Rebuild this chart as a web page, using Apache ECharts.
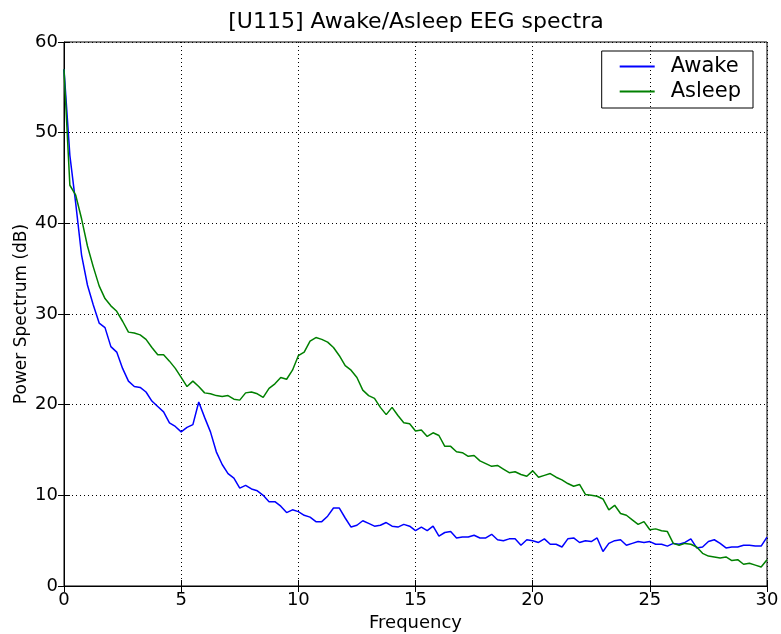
<!DOCTYPE html>
<html>
<head>
<meta charset="utf-8">
<script src="https://cdn.jsdelivr.net/npm/echarts@6/dist/echarts.min.js"></script>
<style>
  html, body { margin: 0; padding: 0; background: #fff; }
  #main { width: 781px; height: 634px; }
</style>
</head>
<body>
<div id="main"></div>
<script>
// sampled spectra, 0.25 Hz step from 0 to 30 Hz
var step = 0.25;
var awake = [
  57.0, 47.5, 42.2, 36.5, 33.2, 31.0, 29.0, 28.5, 26.4, 25.8,
  24.0, 22.6, 22.0, 21.9, 21.4, 20.4, 19.8, 19.2, 18.0, 17.6,
  17.0, 17.5, 17.8, 20.3, 18.6, 17.0, 14.8, 13.4, 12.4, 11.9,
  10.8, 11.1, 10.7, 10.5, 10.0, 9.3, 9.3, 8.8, 8.1, 8.4,
  8.2, 7.8, 7.6, 7.1, 7.1, 7.7, 8.6, 8.6, 7.5, 6.5,
  6.7, 7.2, 6.9, 6.6, 6.7, 7.0, 6.6, 6.5, 6.8, 6.6,
  6.1, 6.5, 6.1, 6.6, 5.5, 5.9, 6.0, 5.3, 5.4, 5.4,
  5.6, 5.3, 5.3, 5.7, 5.1, 5.0, 5.2, 5.2, 4.5, 5.1,
  5.0, 4.8, 5.2, 4.6, 4.6, 4.3, 5.2, 5.3, 4.8, 5.0,
  4.9, 5.3, 3.8, 4.7, 5.0, 5.1, 4.5, 4.7, 4.9, 4.8,
  4.9, 4.6, 4.6, 4.4, 4.7, 4.6, 4.8, 5.2, 4.2, 4.3,
  4.9, 5.1, 4.7, 4.2, 4.3, 4.3, 4.5, 4.5, 4.4, 4.4,
  5.4
];
var asleep = [
  57.0, 44.2, 43.1, 40.5, 37.5, 35.2, 33.1, 31.7, 30.9, 30.3,
  29.2, 28.0, 27.9, 27.7, 27.2, 26.3, 25.5, 25.5, 24.8, 24.0,
  23.0, 22.0, 22.6, 22.0, 21.3, 21.2, 21.0, 20.9, 21.0, 20.6,
  20.5, 21.3, 21.4, 21.2, 20.8, 21.8, 22.3, 23.0, 22.8, 23.8,
  25.4, 25.8, 27.0, 27.4, 27.2, 26.9, 26.3, 25.4, 24.3, 23.8,
  23.0, 21.6, 21.0, 20.7, 19.7, 18.9, 19.7, 18.8, 18.0, 17.9,
  17.1, 17.2, 16.5, 16.9, 16.6, 15.4, 15.4, 14.8, 14.7, 14.3,
  14.4, 13.8, 13.5, 13.2, 13.3, 12.9, 12.5, 12.6, 12.3, 12.1,
  12.7, 12.0, 12.2, 12.4, 12.0, 11.7, 11.3, 11.0, 11.2, 10.1,
  10.0, 9.9, 9.6, 8.4, 8.9, 8.0, 7.8, 7.3, 6.8, 7.1,
  6.2, 6.3, 6.1, 6.0, 4.7, 4.5, 4.7, 4.6, 4.3, 3.6,
  3.3, 3.2, 3.1, 3.2, 2.8, 2.9, 2.4, 2.5, 2.3, 2.1,
  2.9
];
var xTicks = [0, 5, 10, 15, 20, 25, 30];
var yTicks = [0, 10, 20, 30, 40, 50, 60];

function pairs(vals) {
  return vals.map(function (v, i) { return [i * step, v]; });
}

var font = 'DejaVu Sans';
var myChart = echarts.init(document.getElementById('main'));

var gridLine = { show: true, lineStyle: { color: '#000', width: 1, type: [1, 3] } };
var tick = { show: true, inside: true, length: 6, lineStyle: { color: '#000' } };

option = {
  animation: false,
  textStyle: { fontFamily: font },
  title: {
    text: '[U115] Awake/Asleep EEG spectra',
    left: 411, top: 6, textAlign: 'center',
    textStyle: { fontFamily: font, fontSize: 22, fontWeight: 'normal', color: '#000' }
  },
  legend: {
    orient: 'vertical',
    right: 28, top: 51,
    padding: [5, 12, 6, 17],
    itemGap: 4,
    itemWidth: 35, itemHeight: 14,
    borderColor: '#000', borderWidth: 1,
    itemStyle: { opacity: 0 },
    textStyle: { fontFamily: font, fontSize: 21, color: '#000', padding: [0, 0, 0, 11] },
    data: ['Awake', 'Asleep']
  },
  grid: {
    left: 64, right: 14, top: 42, bottom: 48, containLabel: false, outerBoundsMode: 'none',
    show: true, borderColor: '#000', borderWidth: 1
  },
  xAxis: [{
    type: 'value', min: xTicks[0], max: xTicks[xTicks.length - 1], interval: 5,
    name: 'Frequency', nameLocation: 'middle', nameGap: 28,
    nameTextStyle: { fontFamily: font, fontSize: 18, color: '#000' },
    axisLine: { show: true, lineStyle: { color: '#000' } },
    axisTick: tick,
    axisLabel: { fontFamily: font, fontSize: 18, color: '#000', margin: 5 },
    splitLine: gridLine
  }, {
    type: 'value', position: 'top', min: 0, max: 30, interval: 5,
    axisLine: { show: false }, axisTick: tick, axisLabel: { show: false }, splitLine: { show: false }
  }],
  yAxis: [{
    type: 'value', min: yTicks[0], max: yTicks[yTicks.length - 1], interval: 10,
    name: 'Power Spectrum (dB)', nameLocation: 'middle', nameGap: 34, nameMoveOverlap: false,
    nameTextStyle: { fontFamily: font, fontSize: 17, color: '#000' },
    axisLine: { show: true, lineStyle: { color: '#000' } },
    axisTick: tick,
    axisLabel: { fontFamily: font, fontSize: 18, color: '#000', margin: 6 },
    splitLine: gridLine
  }, {
    type: 'value', position: 'right', min: 0, max: 60, interval: 10,
    axisLine: { show: false }, axisTick: tick, axisLabel: { show: false }, splitLine: { show: false }
  }],
  series: [
    {
      name: 'Awake', type: 'line', symbol: 'none',
      lineStyle: { color: '#0000ff', width: 1.5 }, itemStyle: { color: '#0000ff' },
      data: pairs(awake)
    },
    {
      name: 'Asleep', type: 'line', symbol: 'none',
      lineStyle: { color: '#008000', width: 1.5 }, itemStyle: { color: '#008000' },
      data: pairs(asleep)
    }
  ]
};
myChart.setOption(option);
</script>
</body>
</html>
